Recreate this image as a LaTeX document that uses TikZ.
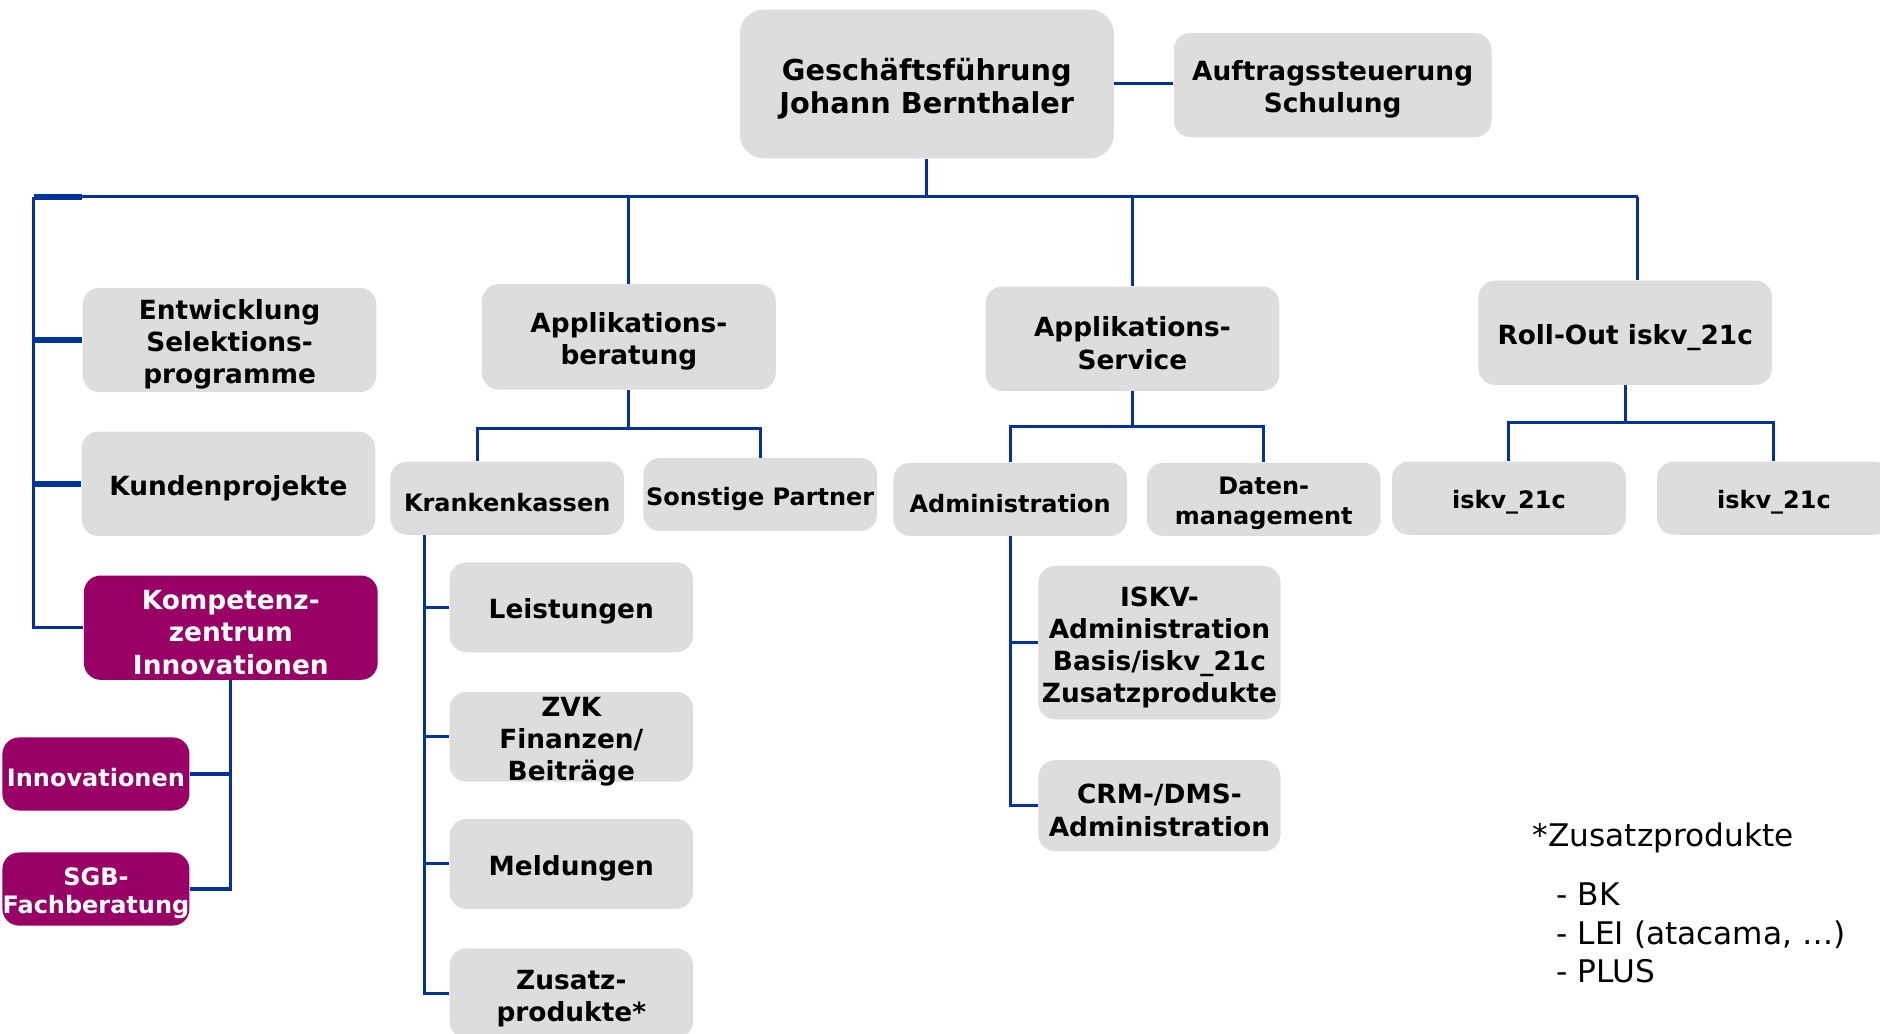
\documentclass[tikz,border=0pt]{standalone}
\usepackage{fontspec}
\setmainfont{DejaVu Sans}
\usetikzlibrary{calc}
\definecolor{boxgray}{HTML}{DDDDDD}
\definecolor{linkblue}{HTML}{0033A0}
\definecolor{kompurple}{HTML}{990066}
\newcommand\bxstrut[1][1.1em]{\rule{0pt}{#1}}
\tikzset{bx/.style={fill=boxgray, rounded corners=7pt, inner sep=0pt, align=center, minimum width=122.5pt, minimum height=43.5pt, font=\fontsize{11}{13.4}\selectfont\bfseries, execute at begin node={\bxstrut}}}
\tikzset{sbx/.style={bx, minimum width=97.5pt, minimum height=30.5pt, font=\fontsize{10}{12.5}\selectfont\bfseries}}
\tikzset{pbx/.style={bx, fill=kompurple, text=white}}
\tikzset{ln/.style={draw=linkblue, line width=1.3pt}}
\tikzset{lnt/.style={ln, line width=2.4pt}}
\tikzset{fn/.style={inner sep=0pt, align=left, font=\fontsize{13}{16}\selectfont}}

\begin{document}
\begin{tikzpicture}[x=0.5pt,y=-0.5pt]
  \useasboundingbox (0,0) rectangle (1568,862);
  \clip (0,0) rectangle (1568,862);
  % top
  \node[bx, minimum width=156pt, minimum height=62pt, rounded corners=10pt, font=\fontsize{12}{13.6}\selectfont\bfseries] (gf) at (773,70) {\bxstrut Geschäftsführung\\Johann Bernthaler};
  \node[bx, minimum width=132.5pt] (auftrag) at (1111.5,71) {\bxstrut Auftragssteuerung\\Schulung};
  % left column
  \node[bx] (entw) at (191.5,283.5) {\bxstrut Entwicklung\\Selektions-\\programme};
  \node[bx] (kunden) at (190.5,403.5) {Kundenprojekte};
  \node[pbx] (kompetenz) at (192.5,523.5) {\bxstrut Kompetenz-\\zentrum\\Innovationen};
  \node[pbx, minimum width=78pt, minimum height=30.5pt, font=\fontsize{10}{11.5}\selectfont\bfseries] (innov) at (80,645.5) {Innovationen};
  \node[pbx, minimum width=78pt, minimum height=30.5pt, font=\fontsize{10}{11.5}\selectfont\bfseries] (sgb) at (80,741.5) {\bxstrut SGB-\\Fachberatung};
  % Applikationsberatung
  \node[bx, minimum height=44pt] (appb) at (524.5,281) {\bxstrut Applikations-\\beratung};
  \node[sbx] (kk) at (423,415.5) {Krankenkassen};
  \node[sbx] (sonst) at (634,412.5) {Sonstige Partner};
  \node[bx, minimum width=101.5pt, minimum height=37.5pt] (leist) at (476.5,506.5) {Leistungen};
  \node[bx, minimum width=101.5pt, minimum height=37.5pt, text depth=0pt] (zvk) at (476.5,614.5) {\bxstrut[0.9em]ZVK\\Finanzen/\\Beiträge};
  \node[bx, minimum width=101.5pt, minimum height=37.5pt] (meld) at (476.5,720.5) {Meldungen};
  \node[bx, minimum width=101.5pt, minimum height=37.5pt] (zusatz) at (476.5,828.5) {\bxstrut Zusatz-\\produkte*};
  % Applikations-Service
  \node[bx] (apps) at (944.5,282.5) {\bxstrut Applikations-\\Service};
  \node[sbx] (admin) at (842.5,416.5) {Administration};
  \node[sbx] (daten) at (1054,416.5) {\bxstrut Daten-\\management};
  \node[bx, minimum width=101pt, minimum height=64pt] (iskvadm) at (967,536) {\bxstrut ISKV-\\Administration\\Basis/iskv\_21c\\Zusatzprodukte};
  \node[bx, minimum width=101pt, minimum height=38pt] (crm) at (967,672) {\bxstrut CRM-/DMS-\\Administration};
  % Roll-Out
  \node[bx] (rollout) at (1355.5,277.5) {Roll-Out iskv\_21c};
  \node[sbx] (iskvA) at (1258.5,415.5) {iskv\_21c};
  \node[sbx] (iskvB) at (1479.5,415.5) {iskv\_21c};
  % footnote
  \node[fn, anchor=base west] (fnhead) at (1278,706) {*Zusatzprodukte};
  \node[fn, anchor=north west] (fnlist) at (1298,736) {- BK\\- LEI (atacama, …)\\- PLUS};

  % connectors
  \draw[ln] (gf.east) -- (gf.east -| auftrag.west);
  \coordinate (busL) at (28,164);
  \coordinate (busR) at (1366,164);
  \draw[ln] (gf.south) -- (gf.south |- busL);
  \draw[ln] (busL) -- (busR);
  \draw[lnt] (busL) -- ++(40,0);
  \draw[ln] (busL) |- (kompetenz.west);
  \draw[lnt] (entw.west) -- (entw.west -| busL);
  \draw[lnt] (kunden.west) -- (kunden.west -| busL);
  \draw[ln] (appb.north) -- (appb.north |- busL);
  \draw[ln] (apps.north) -- (apps.north |- busL);
  \draw[ln] (busR) -- (busR |- rollout.north);
  \draw[ln] (kompetenz.south) |- (sgb.east);
  \draw[ln] (innov.east) -- (innov.east -| kompetenz.south);
  \draw[ln] (appb.south) -- ++(0,32) coordinate (appbJ);
  \draw[ln] ([xshift=-12.5pt]kk.north) |- (appbJ) -| (sonst.north);
  \coordinate (kkL) at ([xshift=14.5pt]kk.south west);
  \draw[ln] (kkL) |- (zusatz.west);
  \foreach \n in {leist,zvk,meld}
    \draw[ln] (\n.west) -- (\n.west -| kkL);
  \draw[ln] (apps.south) -- ++(0,29) coordinate (appsJ);
  \draw[ln] (admin.north) |- (appsJ) -| (daten.north);
  \draw[ln] (admin.south) |- (crm.west);
  \draw[ln] (iskvadm.west) -- (iskvadm.west -| admin.south);
  \draw[ln] (rollout.south) -- ++(0,31) coordinate (rollJ);
  \draw[ln] (iskvA.north) |- (rollJ) -| (iskvB.north);
\end{tikzpicture}
\end{document}
